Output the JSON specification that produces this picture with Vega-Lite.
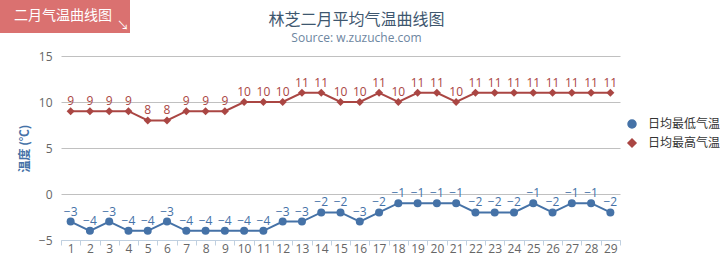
{
  "$schema": "https://vega.github.io/schema/vega-lite/v6.json",
  "width": 559,
  "height": 184,
  "autosize": {"type": "none"},
  "padding": {"left": 61, "top": 56, "right": 100, "bottom": 24},
  "background": "white",
  "config": {
    "font": "Open Sans, Noto Sans CJK SC, sans-serif",
    "view": {"stroke": null}
  },
  "title": {
    "text": "林芝二月平均气温曲线图",
    "subtitle": "Source: w.zuzuche.com",
    "anchor": "middle",
    "dx": 16,
    "fontSize": 16,
    "fontWeight": "normal",
    "color": "#3E576F",
    "font": "Noto Sans CJK SC, sans-serif",
    "subtitleFontSize": 12,
    "subtitleColor": "#6D869F",
    "subtitleFont": "Open Sans, sans-serif",
    "subtitlePadding": 5,
    "offset": -44
  },
  "datasets": {
    "temps": [
      {"day": 1, "series": "日均最低气温", "temp": -3},
      {"day": 2, "series": "日均最低气温", "temp": -4},
      {"day": 3, "series": "日均最低气温", "temp": -3},
      {"day": 4, "series": "日均最低气温", "temp": -4},
      {"day": 5, "series": "日均最低气温", "temp": -4},
      {"day": 6, "series": "日均最低气温", "temp": -3},
      {"day": 7, "series": "日均最低气温", "temp": -4},
      {"day": 8, "series": "日均最低气温", "temp": -4},
      {"day": 9, "series": "日均最低气温", "temp": -4},
      {"day": 10, "series": "日均最低气温", "temp": -4},
      {"day": 11, "series": "日均最低气温", "temp": -4},
      {"day": 12, "series": "日均最低气温", "temp": -3},
      {"day": 13, "series": "日均最低气温", "temp": -3},
      {"day": 14, "series": "日均最低气温", "temp": -2},
      {"day": 15, "series": "日均最低气温", "temp": -2},
      {"day": 16, "series": "日均最低气温", "temp": -3},
      {"day": 17, "series": "日均最低气温", "temp": -2},
      {"day": 18, "series": "日均最低气温", "temp": -1},
      {"day": 19, "series": "日均最低气温", "temp": -1},
      {"day": 20, "series": "日均最低气温", "temp": -1},
      {"day": 21, "series": "日均最低气温", "temp": -1},
      {"day": 22, "series": "日均最低气温", "temp": -2},
      {"day": 23, "series": "日均最低气温", "temp": -2},
      {"day": 24, "series": "日均最低气温", "temp": -2},
      {"day": 25, "series": "日均最低气温", "temp": -1},
      {"day": 26, "series": "日均最低气温", "temp": -2},
      {"day": 27, "series": "日均最低气温", "temp": -1},
      {"day": 28, "series": "日均最低气温", "temp": -1},
      {"day": 29, "series": "日均最低气温", "temp": -2},
      {"day": 1, "series": "日均最高气温", "temp": 9},
      {"day": 2, "series": "日均最高气温", "temp": 9},
      {"day": 3, "series": "日均最高气温", "temp": 9},
      {"day": 4, "series": "日均最高气温", "temp": 9},
      {"day": 5, "series": "日均最高气温", "temp": 8},
      {"day": 6, "series": "日均最高气温", "temp": 8},
      {"day": 7, "series": "日均最高气温", "temp": 9},
      {"day": 8, "series": "日均最高气温", "temp": 9},
      {"day": 9, "series": "日均最高气温", "temp": 9},
      {"day": 10, "series": "日均最高气温", "temp": 10},
      {"day": 11, "series": "日均最高气温", "temp": 10},
      {"day": 12, "series": "日均最高气温", "temp": 10},
      {"day": 13, "series": "日均最高气温", "temp": 11},
      {"day": 14, "series": "日均最高气温", "temp": 11},
      {"day": 15, "series": "日均最高气温", "temp": 10},
      {"day": 16, "series": "日均最高气温", "temp": 10},
      {"day": 17, "series": "日均最高气温", "temp": 11},
      {"day": 18, "series": "日均最高气温", "temp": 10},
      {"day": 19, "series": "日均最高气温", "temp": 11},
      {"day": 20, "series": "日均最高气温", "temp": 11},
      {"day": 21, "series": "日均最高气温", "temp": 10},
      {"day": 22, "series": "日均最高气温", "temp": 11},
      {"day": 23, "series": "日均最高气温", "temp": 11},
      {"day": 24, "series": "日均最高气温", "temp": 11},
      {"day": 25, "series": "日均最高气温", "temp": 11},
      {"day": 26, "series": "日均最高气温", "temp": 11},
      {"day": 27, "series": "日均最高气温", "temp": 11},
      {"day": 28, "series": "日均最高气温", "temp": 11},
      {"day": 29, "series": "日均最高气温", "temp": 11}
    ],
    "badge": [{"label": "二月气温曲线图", "arrow": "↘"}]
  },
  "layer": [
    {
      "data": {"name": "temps"},
      "encoding": {
        "x": {
          "field": "day",
          "type": "ordinal",
          "scale": {"paddingInner": 0, "paddingOuter": 0},
          "axis": {
            "title": null,
            "labelAngle": 0,
            "labelFontSize": 12,
            "labelColor": "#666666",
            "labelPadding": -2,
            "tickBand": "extent",
            "tickSize": 5,
            "tickColor": "#C0D0E0",
            "domainColor": "#C0D0E0",
            "grid": false
          }
        },
        "y": {
          "field": "temp",
          "type": "quantitative",
          "scale": {"domain": [-5, 15], "nice": false, "zero": false},
          "axis": {
            "values": [-5, 0, 5, 10, 15],
            "title": "温度 (℃)",
            "titleColor": "#4572A7",
            "titleFontSize": 12,
            "titleFontWeight": "bold",
            "titleFont": "Noto Sans CJK SC, sans-serif",
            "titlePadding": 7,
            "labelFontSize": 12,
            "labelColor": "#666666",
            "labelPadding": 9,
            "ticks": false,
            "domain": false,
            "grid": true,
            "gridColor": "#C0C0C0",
            "format": "d"
          }
        },
        "color": {
          "field": "series",
          "type": "nominal",
          "scale": {"domain": ["日均最低气温", "日均最高气温"], "range": ["#4572A7", "#AA4643"]},
          "legend": {
            "title": null,
            "orient": "none",
            "legendX": 565,
            "legendY": 62,
            "labelFontSize": 12,
            "labelColor": "#333333",
            "labelFont": "Noto Sans CJK SC, sans-serif",
            "symbolSize": 64,
            "rowPadding": 5,
            "labelOffset": 10
          }
        }
      },
      "layer": [
        {"mark": {"type": "line", "strokeWidth": 2}},
        {
          "mark": {"type": "point", "filled": true, "size": 64, "opacity": 1},
          "encoding": {
            "shape": {
              "field": "series",
              "type": "nominal",
              "scale": {"domain": ["日均最低气温", "日均最高气温"], "range": ["circle", "diamond"]}
            }
          }
        },
        {
          "mark": {"type": "text", "dy": -10, "fontSize": 12, "baseline": "middle"},
          "encoding": {"text": {"field": "temp", "type": "quantitative", "format": "d"}}
        }
      ]
    },
    {
      "data": {"name": "badge"},
      "mark": {"type": "rect", "color": "#DA7170", "clip": false},
      "encoding": {
        "x": {"value": -61},
        "x2": {"value": 69},
        "y": {"value": -56},
        "y2": {"value": -23}
      }
    },
    {
      "data": {"name": "badge"},
      "mark": {"type": "text", "color": "white", "fontSize": 14, "font": "Noto Sans CJK SC, sans-serif", "align": "center", "baseline": "middle", "clip": false},
      "encoding": {
        "text": {"field": "label"},
        "x": {"value": 2},
        "y": {"value": -40}
      }
    },
    {
      "data": {"name": "badge"},
      "mark": {"type": "text", "color": "white", "fontSize": 12, "align": "center", "baseline": "middle", "clip": false},
      "encoding": {
        "text": {"field": "arrow"},
        "x": {"value": 62},
        "y": {"value": -30}
      }
    }
  ]
}
